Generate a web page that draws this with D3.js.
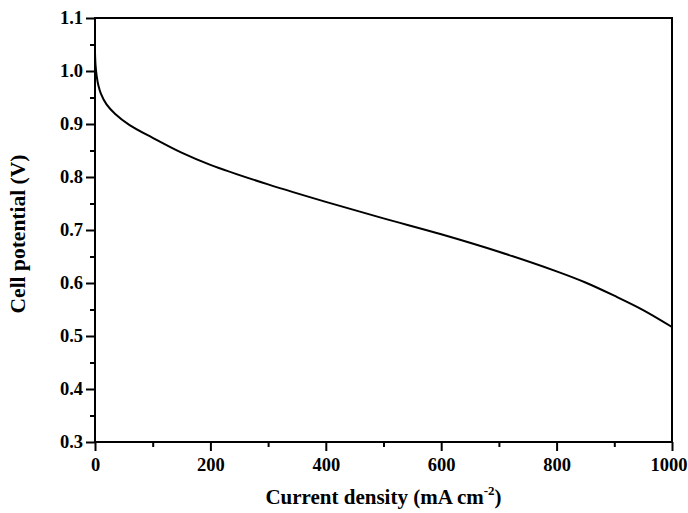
<!DOCTYPE html>
<meta charset="utf-8">
<style>
body{margin:0;background:#fff;}
svg{display:block}
text{font-family:"Liberation Serif","Times New Roman",serif;font-weight:bold;fill:#000;}
</style>
<svg id="chart" width="688" height="513"></svg>
<script src="https://d3js.org/d3.v7.min.js"></script>
<script>
// polarisation curve
const currentDensity = [0, 1, 3, 6, 10, 20, 35, 60, 100, 150, 200, 300, 400, 500, 600, 700, 800, 850, 900, 950, 1000]
const cellPotential = [1.035, 1.01, 0.99, 0.972, 0.958, 0.937, 0.919, 0.898, 0.874, 0.846, 0.823, 0.786, 0.753, 0.722, 0.692, 0.659, 0.622, 0.601, 0.576, 0.549, 0.517]
const xTicks = [0, 200, 400, 600, 800, 1000]
const yTicks = [0.3, 0.4, 0.5, 0.6, 0.7, 0.8, 0.9, 1.0, 1.1]

const svg = d3.select('#chart')
const plotL = 95, plotR = 672, plotT = 18, plotB = 442

const x = d3.scaleLinear().domain([0, 1000]).range([plotL, plotR])
const y = d3.scaleLinear().domain([0.3, 1.1]).range([plotB, plotT])

// frame
svg.append('rect')
  .attr('x', plotL).attr('y', plotT)
  .attr('width', plotR - plotL).attr('height', plotB - plotT)
  .attr('fill', 'none').attr('stroke', '#000').attr('stroke-width', 2)

// bottom axis
const xAxis = svg.append('g').attr('transform', `translate(0,${plotB})`)
xAxis.call(d3.axisBottom(x).tickValues(xTicks).tickFormat(d3.format('d')).tickSize(9).tickPadding(7))
xAxis.append('g').call(d3.axisBottom(x).tickValues([100, 300, 500, 700, 900]).tickFormat('').tickSize(5))

// left axis
const yAxis = svg.append('g').attr('transform', `translate(${plotL},0)`)
yAxis.call(d3.axisLeft(y).tickValues(yTicks).tickFormat(d3.format('.1f')).tickSize(9).tickPadding(3))
yAxis.append('g').call(d3.axisLeft(y).tickValues([0.35, 0.45, 0.55, 0.65, 0.75, 0.85, 0.95, 1.05]).tickFormat('').tickSize(5))

svg.selectAll('.domain').remove()
svg.selectAll('.tick line').attr('stroke', '#000').attr('stroke-width', 2)
svg.selectAll('.tick text').style('font-size', '18.5px').style('font-family', '"Liberation Serif",serif').style('font-weight', 'bold')
// keep "1000" inside the window
xAxis.selectAll('.tick text').filter(d => d === 1000).attr('text-anchor', 'end').attr('x', 15)

// curve
const pts = currentDensity.map((d, i) => [d, cellPotential[i]])
svg.append('path')
  .datum(pts)
  .attr('fill', 'none').attr('stroke', '#000').attr('stroke-width', 2)
  .attr('d', d3.line().x(d => x(d[0])).y(d => y(d[1])).curve(d3.curveCatmullRom.alpha(0.5)))

// titles
const xt = svg.append('text')
  .attr('x', (plotL + plotR) / 2).attr('y', 504)
  .attr('text-anchor', 'middle').style('font-size', '21px')
xt.append('tspan').text('Current density (mA cm')
xt.append('tspan').text('-2').attr('dy', -9).style('font-size', '13px')
xt.append('tspan').text(')').attr('dy', 9)

svg.append('text')
  .attr('transform', `translate(25,${(plotT + plotB) / 2 + 4}) rotate(-90)`)
  .attr('text-anchor', 'middle').style('font-size', '21.5px')
  .text('Cell potential (V)')
</script>
